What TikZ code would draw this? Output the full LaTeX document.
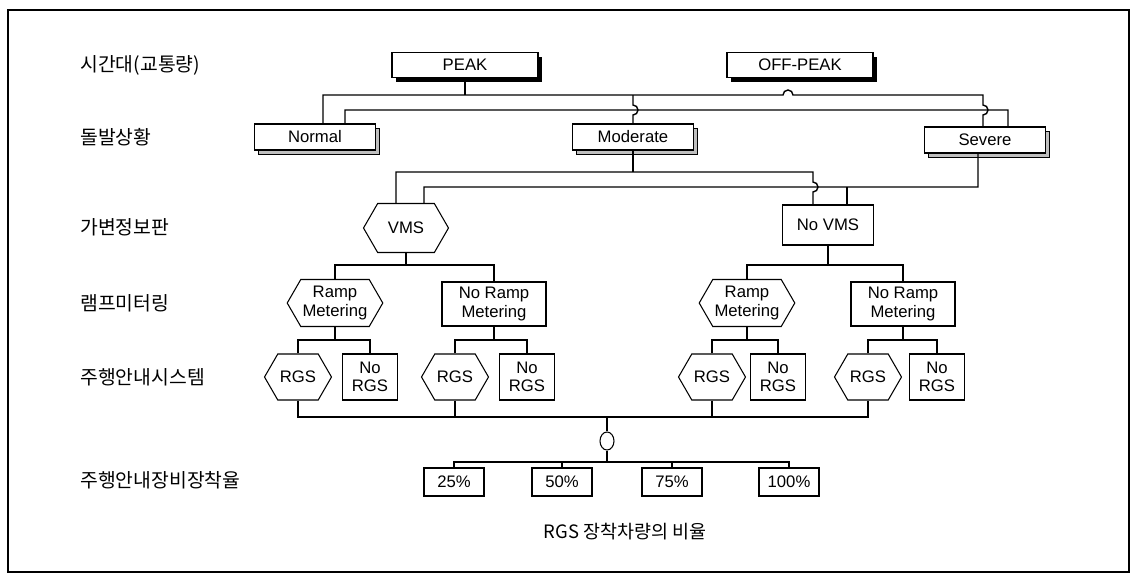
\documentclass[tikz,border=0pt]{standalone}
\usepackage{fontspec}
\setmainfont{Liberation Sans}
\newfontfamily\krfont{Noto Sans CJK KR}
\usepackage{tikz}
\usetikzlibrary{shapes.symbols,shapes.geometric,shadows}
\tikzset{
    box node/.style={rectangle, draw, line width=0.6pt, fill=white, inner sep=1pt, align=center, font=\fontsize{9.5}{10.5}\selectfont},
    time box/.style={box node, minimum width=2.92cm, minimum height=0.5cm, drop shadow={shadow xshift=0.08cm, shadow yshift=-0.08cm, fill=black, opacity=1}},
    event box/.style={box node, minimum width=2.42cm, minimum height=0.52cm, drop shadow={shadow xshift=0.08cm, shadow yshift=-0.08cm, fill=gray!50, draw=black, line width=0.4pt, opacity=1}},
    hex node/.style={box node, signal, signal to=east and west, signal pointer angle=120},
    vms hex/.style={hex node, minimum width=1.7cm, minimum height=0.98cm},
    ramp hex/.style={hex node, minimum width=1.86cm, minimum height=0.94cm},
    rgs hex/.style={hex node, minimum width=1.34cm, minimum height=0.92cm},
    novms box/.style={box node, minimum width=1.82cm, minimum height=0.8cm},
    noramp box/.style={box node, minimum width=2.08cm, minimum height=0.88cm},
    norgs box/.style={box node, minimum width=1.1cm, minimum height=0.92cm},
    rate box/.style={box node, minimum width=1.2cm, minimum height=0.56cm},
    mix node/.style={ellipse, draw, line width=0.6pt, fill=white, inner sep=0pt, minimum width=0.28cm, minimum height=0.36cm},
    row label/.style={font=\krfont\fontsize{11}{13}\selectfont, anchor=west, inner sep=0pt},
    link/.style={line width=0.8pt}
}

\begin{document}
\begin{tikzpicture}[x=0.02cm, y=-0.02cm]
    \useasboundingbox (0,0) rectangle (1133,579);
    \draw[line width=0.8pt] (8,10) rectangle (1129,572);

    % Row labels on the left
    \foreach \y/\t in {65/시간대(교통량), 137/돌발상황, 227/가변정보판, 303/램프미터링, 377/주행안내시스템, 480/주행안내장비장착율} {
        \node[row label] at (80,\y) {\t};
    }

    % Bus levels
    \coordinate (bus-a) at (0,95);
    \coordinate (bus-b) at (0,110);
    \coordinate (bus-c) at (0,172);
    \coordinate (bus-d) at (0,187);
    \coordinate (bus-e) at (0,265);
    \coordinate (bus-f) at (0,340);
    \coordinate (bus-g) at (0,417);
    \coordinate (bus-h) at (0,462);

    % Time of day
    \node[time box] (peak) at (465,65) {PEAK};
    \node[time box] (offpeak) at (800,65) {OFF-PEAK};

    % Incidents
    \node[event box] (normal) at (315,137) {Normal};
    \node[event box] (moderate) at (633,137) {Moderate};
    \node[event box] (severe) at (985,140) {Severe};

    % VMS
    \node[vms hex] (vms) at (406,228) {VMS};
    \node[novms box] (novms) at (828,225) {No VMS};

    % Ramp metering
    \node[ramp hex] (ramp-1) at (335,303) {Ramp\\Metering};
    \node[noramp box] (noramp-1) at (494,304) {No Ramp\\Metering};
    \node[ramp hex] (ramp-2) at (747,303) {Ramp\\Metering};
    \node[noramp box] (noramp-2) at (903,304) {No Ramp\\Metering};

    % Route guidance
    \foreach \i/\x in {1/298, 2/455, 3/712, 4/868} {
        \node[rgs hex] (rgs-\i) at (\x,377) {RGS};
    }
    \foreach \i/\x in {1/370, 2/527, 3/778, 4/937} {
        \node[norgs box] (norgs-\i) at (\x,377) {No\\RGS};
    }

    % Market penetration
    \node[mix node] (mix) at (607,441) {};
    \foreach \i/\x/\t in {1/454/25, 2/562/50, 3/672/75, 4/789/100} {
        \node[rate box] (rate-\i) at (\x,482) {\t\%};
    }
    \node[font=\krfont\fontsize{10.5}{12}\selectfont] (caption) at (625,532) {RGS 장착차량의 비율};

    % PEAK branches
    \draw[link] (peak.south) -- (peak.south |- bus-a);
    \draw[link] ([xshift=0.16cm]normal.north) |- (783,95)
        arc[start angle=180, end angle=360, radius=5] -- (983,95) -- (983,105)
        arc[start angle=-90, end angle=90, radius=5] -- ([xshift=-0.04cm]severe.north);
    \draw[link] (moderate.north |- bus-a) -- (633,105)
        arc[start angle=-90, end angle=90, radius=5] -- (moderate.north);

    % OFF-PEAK branches
    \draw[link] ([xshift=0.6cm]normal.north) |- (1008,110) -- ([xshift=0.46cm]severe.north);

    % Moderate and Severe to VMS
    \draw[link] (moderate.south) -- (moderate.south |- bus-c);
    \draw[link] ([xshift=-0.2cm]vms.north) |- (813,172) -- (813,182)
        arc[start angle=-90, end angle=90, radius=5] -- ([xshift=-0.3cm]novms.north);
    \draw[link] ([xshift=-0.14cm]severe.south) |- (424,187) -- ([xshift=0.36cm]vms.north);
    \draw[link] ([xshift=0.38cm]novms.north) -- ([xshift=0.38cm]novms.north |- bus-d);

    % VMS to ramp metering
    \draw[link] (vms.south) -- (vms.south |- bus-e);
    \draw[link] (ramp-1.north) |- (noramp-1.north |- bus-e) -- (noramp-1.north);
    \draw[link] (novms.south) -- (novms.south |- bus-e);
    \draw[link] (ramp-2.north) |- (noramp-2.north |- bus-e) -- (noramp-2.north);

    % Ramp metering to route guidance
    \foreach \p/\i in {ramp-1/1, noramp-1/2, ramp-2/3, noramp-2/4} {
        \draw[link] (\p.south) -- (\p.south |- bus-f);
        \draw[link] (rgs-\i.north) |- (norgs-\i.north |- bus-f) -- (norgs-\i.north);
    }

    % Route guidance to penetration rates
    \draw[link] (rgs-1.south) |- (rgs-4.south |- bus-g) -- (rgs-4.south);
    \foreach \i in {2,3} {
        \draw[link] (rgs-\i.south) -- (rgs-\i.south |- bus-g);
    }
    \draw[link] (mix.north |- bus-g) -- (mix.north);
    \draw[link] (mix.south) -- (mix.south |- bus-h);
    \draw[link] (rate-1.north) |- (rate-4.north |- bus-h) -- (rate-4.north);
    \foreach \i in {2,3} {
        \draw[link] (rate-\i.north) -- (rate-\i.north |- bus-h);
    }
\end{tikzpicture}
\end{document}
